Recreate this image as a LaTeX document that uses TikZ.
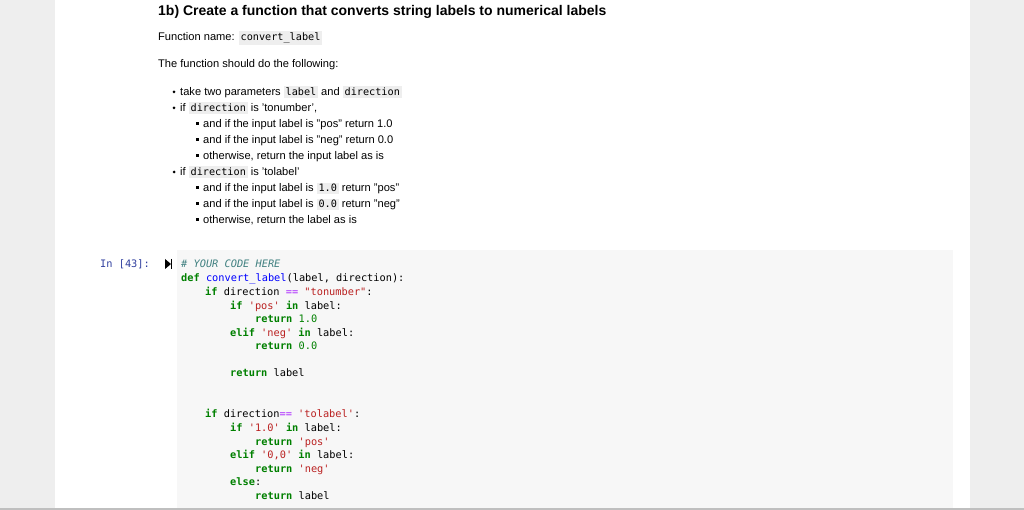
\documentclass[tikz,border=0pt]{standalone}
\usepackage{fontspec}
\setmainfont{Liberation Sans}
\setmonofont{DejaVu Sans Mono}
\usetikzlibrary{positioning}
\definecolor{pagebg}{HTML}{EEEEEE}
\definecolor{cellbg}{HTML}{F7F7F7}
\definecolor{icodebg}{HTML}{EEEEEE}
\definecolor{kwgreen}{HTML}{008000}
\definecolor{strred}{HTML}{BA2121}
\definecolor{cmtgray}{HTML}{408080}
\definecolor{oppurple}{HTML}{AA22FF}
\definecolor{fnblue}{HTML}{0000FF}
\definecolor{prompt}{HTML}{303F9F}
\newcommand{\kw}[1]{\textcolor{kwgreen}{\textbf{#1}}}
\newcommand{\str}[1]{\textcolor{strred}{#1}}
\newcommand{\num}[1]{\textcolor{kwgreen}{#1}}
\newcommand{\op}[1]{\textcolor{oppurple}{#1}}
\newcommand{\icode}[1]{{\setlength{\fboxsep}{1.8pt}\colorbox{icodebg}{\ttfamily\fontsize{10.2}{11}\selectfont#1}}}
\begin{document}
\begin{tikzpicture}[
        x=1pt, y=-1pt,
        txt/.style={anchor=base west, inner sep=0pt, font=\fontsize{11.1}{12}\selectfont},
        title/.style={anchor=base west, inner sep=0pt, font=\fontsize{14}{16}\selectfont\bfseries},
        code/.style={anchor=base west, inner sep=0pt, font=\ttfamily\fontsize{10.3}{12}\selectfont},
        dot/.style={circle, fill=black, inner sep=0pt, minimum size=3pt},
        sqdot/.style={rectangle, fill=black, inner sep=0pt, minimum size=3pt}
    ]
    \useasboundingbox (0,0) rectangle (1024,510);
    \fill[pagebg] (0,0) rectangle (1024,510);
    \fill[white] (55,0) rectangle (970,510);
    \fill[cellbg] (177,250) rectangle (953,510);
    \draw[black!25, line width=1.5pt] (0,509) -- (1024,509);

    % markdown cell
    \node[title] (head) at (158,16) {1b) Create a function that converts string labels to numerical labels};
    \node[txt] (fname) at (158,41) {Function name: \icode{convert\_label}};
    \node[txt] (intro) at (158,68) {The function should do the following:};

    \node[dot] (b1) at (174,92) {};
    \node[txt] (t1) at (180,96) {take two parameters \icode{label} and \icode{direction}};
    \node[dot] (b2) at (174,108) {};
    \node[txt] (t2) at (180,112) {if \icode{direction} is 'tonumber',};
    \node[sqdot] (b21) at (197,124) {};
    \node[txt] (t21) at (203,128) {and if the input label is "pos" return 1.0};
    \node[sqdot] (b22) at (197,140) {};
    \node[txt] (t22) at (203,144) {and if the input label is "neg" return 0.0};
    \node[sqdot] (b23) at (197,156) {};
    \node[txt] (t23) at (203,160) {otherwise, return the input label as is};
    \node[dot] (b3) at (174,172) {};
    \node[txt] (t3) at (180,176) {if \icode{direction} is 'tolabel'};
    \node[sqdot] (b31) at (197,188) {};
    \node[txt] (t31) at (203,192) {and if the input label is \icode{1.0} return "pos"};
    \node[sqdot] (b32) at (197,204) {};
    \node[txt] (t32) at (203,208) {and if the input label is \icode{0.0} return "neg"};
    \node[sqdot] (b33) at (197,220) {};
    \node[txt] (t33) at (203,224) {otherwise, return the label as is};

    % code cell
    \node[code, text=prompt] (prompt) at (100,268) {In [43]:};
    \fill (165,259) -- (171,264) -- (165,269) -- cycle;
    \draw[line width=1.3pt] (171.5,259) -- (171.5,269);

    \node[code] (c1)  at (181,268) {\textcolor{cmtgray}{\itshape\# YOUR CODE HERE}};
    \node[code] (c2)  at (181,282) {\kw{def} \textcolor{fnblue}{convert\_label}(label, direction):};
    \node[code] (c3)  at (205,295) {\kw{if} direction \op{==} \str{"tonumber"}:};
    \node[code] (c4)  at (230,309) {\kw{if} \str{'pos'} \kw{in} label:};
    \node[code] (c5)  at (255,322) {\kw{return} \num{1.0}};
    \node[code] (c6)  at (230,336) {\kw{elif} \str{'neg'} \kw{in} label:};
    \node[code] (c7)  at (255,349) {\kw{return} \num{0.0}};
    \node[code] (c8)  at (230,376) {\kw{return} label};
    \node[code] (c9)  at (205,417) {\kw{if} direction\op{==} \str{'tolabel'}:};
    \node[code] (c10) at (230,431) {\kw{if} \str{'1.0'} \kw{in} label:};
    \node[code] (c11) at (255,445) {\kw{return} \str{'pos'}};
    \node[code] (c12) at (230,458) {\kw{elif} \str{'0,0'} \kw{in} label:};
    \node[code] (c13) at (255,472) {\kw{return} \str{'neg'}};
    \node[code] (c14) at (230,485) {\kw{else}:};
    \node[code] (c15) at (255,499) {\kw{return} label};
\end{tikzpicture}
\end{document}
